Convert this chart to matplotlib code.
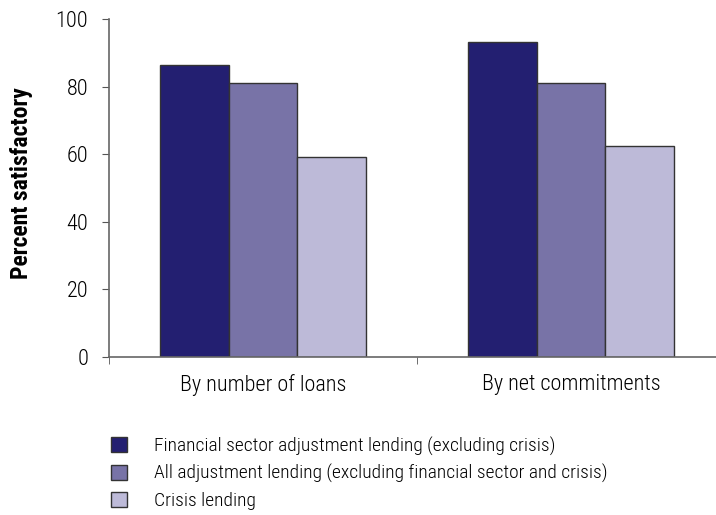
import matplotlib
matplotlib.use('Agg')
import matplotlib.pyplot as plt
from matplotlib.patches import Patch
import numpy as np

# data
categories = ['By number of loans', 'By net commitments']
series_names = [
    'Financial sector adjustment lending (excluding crisis)',
    'All adjustment lending (excluding financial sector and crisis)',
    'Crisis lending',
]
fsal = [86.4, 93.1]
all_adj = [81.2, 81.2]
crisis = [59.2, 62.3]
colors = ['#231F71', '#7873A7', '#BDBAD8']

plt.rcParams['font.family'] = ['Roboto Condensed', 'DejaVu Sans']

fig = plt.figure(figsize=(7.16, 5.15), dpi=100)
ax = fig.add_axes([109 / 716, 158 / 515, 616 / 716, 338 / 515])

x = np.arange(len(categories))
w = 0.224
for i, vals in enumerate([fsal, all_adj, crisis]):
    ax.bar(x + (i - 1) * w, vals, w, color=colors[i], edgecolor='#333333', linewidth=1.0)

ax.set_xlim(-0.5, 1.5)
ax.set_ylim(0, 100)
ax.set_yticks([0, 20, 40, 60, 80, 100])
ax.set_xticks(x)
ax.set_xticklabels(categories, fontsize=16, fontweight='light')
ax.set_xticks([-0.5, 0.5, 1.5], minor=True)
ax.tick_params(axis='x', which='major', length=0, pad=12)
ax.tick_params(axis='x', which='minor', length=5, direction='out', color='#555555')
ax.tick_params(axis='y', length=5, direction='out', color='#555555', labelsize=16, pad=10)
for lab in ax.get_yticklabels():
    lab.set_fontweight('light')

for s in ['top', 'right']:
    ax.spines[s].set_visible(False)
for s in ['left', 'bottom']:
    ax.spines[s].set_color('#666666')
    ax.spines[s].set_linewidth(1.2)

fig.text(22 / 716, 1 - 183 / 515, 'Percent satisfactory', rotation=90, fontsize=17,
         fontweight='bold', ha='center', va='center')

handles = [Patch(facecolor=colors[i], edgecolor='#333333', label=series_names[i]) for i in range(3)]
leg = fig.legend(handles=handles, loc='upper left', bbox_to_anchor=(103 / 716, 1 - 429 / 515),
                 frameon=False, fontsize=14, handlelength=0.82, handleheight=0.82,
                 handletextpad=1.4, labelspacing=0.43, borderaxespad=0)
for t in leg.get_texts():
    t.set_fontweight('light')

fig.savefig('out.png', dpi=100)
